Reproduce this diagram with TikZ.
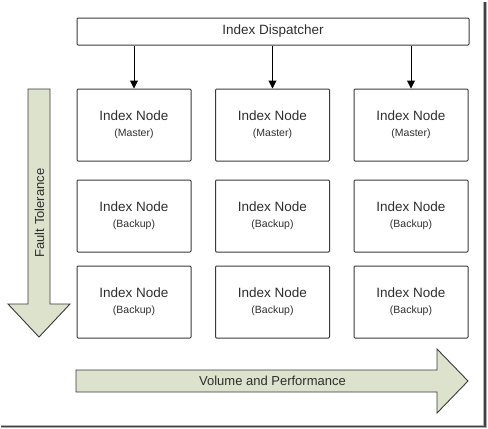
\documentclass[tikz,border=0pt]{standalone}
\usepackage{fontspec}
\setmainfont{Liberation Sans}
\usetikzlibrary{arrows.meta}
\definecolor{edgegray}{HTML}{3A3A3A}
\definecolor{txtgray}{HTML}{2E2E2E}
\definecolor{arrowfill}{HTML}{DCE2CC}
\begin{document}
\begin{tikzpicture}[x=1pt,y=-1pt,
  idxbox/.style={draw=edgegray,line width=1pt,rounded corners=1pt,minimum width=114pt,minimum height=72pt,inner sep=0pt,align=center,text=txtgray,font=\fontsize{13.5}{17}\selectfont},
  dispbox/.style={draw=edgegray,line width=1pt,rounded corners=1pt,minimum width=392pt,minimum height=27pt,inner sep=0pt,text=txtgray,font=\fontsize{13.5}{16}\selectfont},
  bigarrow/.style={draw=edgegray,line width=0.9pt,fill=arrowfill},
  conn/.style={draw=black,line width=1pt,-{Triangle[length=8pt,width=8pt]}},
  lbl/.style={text=txtgray,font=\fontsize{13}{16}\selectfont,inner sep=0pt}
]
\useasboundingbox (0,0) rectangle (488,429);
% frame shadow
\fill[gray!60] (483,2) rectangle (487,428);
\fill[gray!60] (1,425) rectangle (487,428);
\fill[black!75] (484,2) rectangle (485.5,426.5);
\fill[black!75] (1,425.5) rectangle (485.5,426.8);

% dispatcher
\node[dispbox] (disp) at (273,31.5) {Index Dispatcher};

\newcommand{\sublbl}[1]{\\[-1pt]{\fontsize{10.5}{12}\selectfont #1}}
% index nodes
\node[idxbox] (m1) at (134,125) {Index Node\sublbl{(Master)}};
\node[idxbox] (m2) at (272.5,125) {Index Node\sublbl{(Master)}};
\node[idxbox] (m3) at (411,125) {Index Node\sublbl{(Master)}};
\node[idxbox] (b1) at (134,216) {Index Node\sublbl{(Backup)}};
\node[idxbox] (b2) at (272.5,216) {Index Node\sublbl{(Backup)}};
\node[idxbox] (b3) at (411,216) {Index Node\sublbl{(Backup)}};
\node[idxbox] (c1) at (134,302) {Index Node\sublbl{(Backup)}};
\node[idxbox] (c2) at (272.5,302) {Index Node\sublbl{(Backup)}};
\node[idxbox] (c3) at (411,302) {Index Node\sublbl{(Backup)}};

% connectors
\draw[conn] (disp.south -| m1.north) -- (m1.north);
\draw[conn] (disp.south -| m2.north) -- (m2.north);
\draw[conn] (disp.south -| m3.north) -- (m3.north);

% fault tolerance arrow
\draw[bigarrow] (28,89) -- (50,89) -- (50,304) -- (70,304) -- (39,337) -- (8,304) -- (28,304) -- cycle;
\node[lbl,rotate=90] (ft) at (39.5,213) {Fault Tolerance};

% volume arrow
\draw[bigarrow] (76,370) -- (437,370) -- (437,349) -- (468,381) -- (437,413) -- (437,392) -- (76,392) -- cycle;
\node[lbl] (vp) at (272.5,381) {Volume and Performance};
\end{tikzpicture}
\end{document}
